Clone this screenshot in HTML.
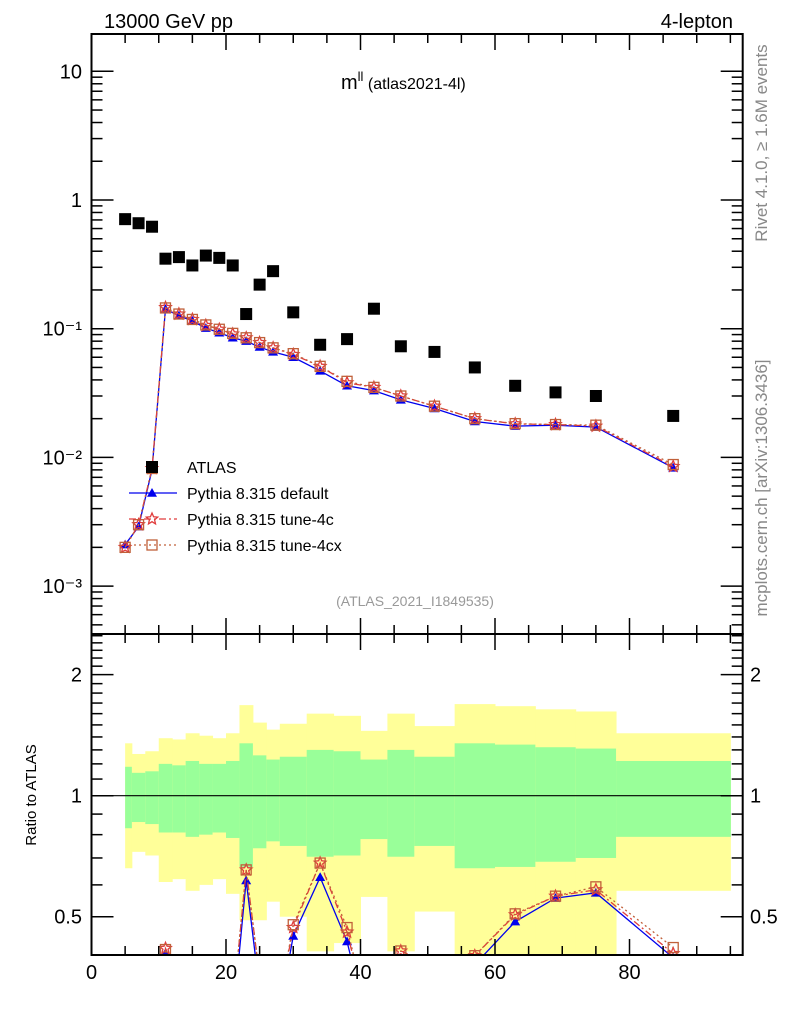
<!DOCTYPE html>
<html><head><meta charset="utf-8"><style>
html,body{margin:0;padding:0;background:#fff;width:786px;height:1024px;overflow:hidden;}
svg{display:block;font-family:"Liberation Sans",Arial,sans-serif;}
</style></head><body>
<svg id="chart" width="786" height="1024" viewBox="0 0 786 1024" xmlns="http://www.w3.org/2000/svg">
<g id="bands"></g>
<g id="marks"></g>
<g id="axes"></g>
<text x="104" y="28" font-size="20">13000 GeV pp</text>
<text x="733" y="28" font-size="20" text-anchor="end">4-lepton</text>
<text x="341" y="89" font-size="20">m<tspan font-size="13" dy="-8">ll</tspan><tspan font-size="16" dy="8"> (atlas2021-4l)</tspan></text>
<text x="415" y="606" font-size="14" fill="#999" text-anchor="middle">(ATLAS_2021_I1849535)</text>
<text transform="translate(767,143) rotate(-90)" font-size="17" fill="#888" text-anchor="middle">Rivet 4.1.0, ≥ 1.6M events</text>
<text transform="translate(767,488) rotate(-90)" font-size="17" fill="#888" text-anchor="middle">mcplots.cern.ch [arXiv:1306.3436]</text>
<text transform="translate(36,795) rotate(-90)" font-size="15" text-anchor="middle">Ratio to ATLAS</text>
<g id="legend"></g>
</svg>
<script>
const xVals=[5,7,9,11,13,15,17,19,21,23,25,27,30,34,38,42,46,51,57,63,69,75,86.5];
const atlas=[0.71,0.66,0.62,0.35,0.36,0.31,0.37,0.355,0.31,0.13,0.22,0.28,0.134,0.075,0.083,0.143,0.073,0.066,0.05,0.036,0.032,0.030,0.021];
const pyDefault=[0.0021,0.0029,0.008,0.142,0.126,0.115,0.101,0.093,0.085,0.08,0.072,0.066,0.06,0.047,0.036,0.033,0.028,0.024,0.019,0.0175,0.0178,0.0172,0.0083];
const pyTune4c=[0.0020,0.0030,0.0082,0.146,0.13,0.118,0.106,0.099,0.091,0.085,0.078,0.071,0.063,0.051,0.038,0.035,0.030,0.025,0.020,0.0182,0.018,0.0175,0.0085];
const pyTune4cx=[0.0020,0.0030,0.0082,0.145,0.13,0.118,0.107,0.099,0.092,0.085,0.078,0.071,0.064,0.051,0.039,0.035,0.030,0.025,0.020,0.0183,0.018,0.0178,0.0088];
const binEdges=[5,6,8,10,12,14,16,18,20,22,24,26,28,32,36,40,44,48,54,60,66,72,78,95];
const yellowHi=[1.35,1.27,1.29,1.39,1.38,1.43,1.41,1.39,1.43,1.68,1.52,1.46,1.51,1.6,1.58,1.45,1.6,1.49,1.69,1.67,1.64,1.62,1.43];
const greenHi=[1.18,1.14,1.15,1.2,1.19,1.22,1.2,1.2,1.22,1.35,1.26,1.23,1.25,1.3,1.29,1.23,1.3,1.25,1.35,1.34,1.32,1.31,1.22];
const greenLo=[0.83,0.86,0.85,0.81,0.81,0.79,0.8,0.81,0.785,0.665,0.74,0.77,0.75,0.705,0.71,0.78,0.705,0.75,0.66,0.665,0.685,0.7,0.79];
const yellowLo=[0.66,0.725,0.71,0.61,0.62,0.58,0.6,0.62,0.57,0.49,0.49,0.545,0.5,0.41,0.43,0.56,0.41,0.515,0.35,0.35,0.35,0.35,0.58];
const xTicks=[0,20,40,60,80];

const NS="http://www.w3.org/2000/svg";
const L=91.5,R=742.7,T=34,MB=634,RB=955;
const XMAX=(R-L)/6.725;
const X=v=>L+v*6.725;
const Y=v=>200-Math.log10(v)*128.7;
const RY=v=>795.7-Math.log10(v)*402;
function el(tag,attrs,parent){const e=document.createElementNS(NS,tag);for(const k in attrs)e.setAttribute(k,attrs[k]);parent.appendChild(e);return e;}
const bands=document.getElementById('bands'),marks=document.getElementById('marks'),axes=document.getElementById('axes'),legend=document.getElementById('legend');
const clampR=v=>Math.min(Math.max(RY(v),T),RB);

for(let i=0;i<binEdges.length-1;i++){
  const x0=X(binEdges[i]),x1=X(binEdges[i+1]);
  const yb=el('rect',{x:x0,y:clampR(yellowHi[i]),width:x1-x0+0.5,height:clampR(yellowLo[i])-clampR(yellowHi[i]),fill:'#ffff99'},bands);
  
  
  const gb=el('rect',{x:x0,y:clampR(greenHi[i]),width:x1-x0+0.5,height:clampR(greenLo[i])-clampR(greenHi[i]),fill:'#99ff99'},bands);
  
  
}
const one=el('line',{x1:L,x2:R,y1:RY(1),y2:RY(1),stroke:'#000','stroke-width':1.2},bands);



const defs=el('defs',{},marks);
const c1=el('clipPath',{id:'cm'},defs);el('rect',{x:L,y:T,width:R-L,height:MB-T},c1);
const c2=el('clipPath',{id:'cr'},defs);el('rect',{x:L,y:MB,width:R-L,height:RB-MB},c2);
const gm=el('g',{'clip-path':'url(#cm)'},marks);
const gr=el('g',{'clip-path':'url(#cr)'},marks);

function triangle(g,x,y,c,s){return el('path',{d:`M${x},${y-s} L${x+s},${y+s*0.75} L${x-s},${y+s*0.75}Z`,fill:c},g);}
function star(g,x,y,c,r){let p='';for(let i=0;i<10;i++){const a=-Math.PI/2+i*Math.PI/5,rr=i%2?r*0.45:r;p+=(i?'L':'M')+(x+rr*Math.cos(a)).toFixed(1)+','+(y+rr*Math.sin(a)).toFixed(1);}return el('path',{d:p+'Z',fill:'none',stroke:c,'stroke-width':1.3},g);}
function sq(g,x,y,c,s){return el('rect',{x:x-s,y:y-s,width:2*s,height:2*s,fill:'none',stroke:c,'stroke-width':1.3},g);}

const series=[
 {vals:pyTune4cx,c:'#c0603a',dash:'2,3',m:'sq',name:'tune-4cx'},
 {vals:pyTune4c,c:'#e03c3c',dash:'7,3,2,3',m:'star',name:'tune-4c'},
 {vals:pyDefault,c:'#0000ee',dash:'',m:'tri',name:'default'}];
series.slice().reverse().forEach(s=>{
  ['main','ratio'].forEach(panel=>{
    const g=panel==='main'?gm:gr;
    const pts=xVals.map((x,i)=>[X(x),panel==='main'?Y(s.vals[i]):RY(s.vals[i]/atlas[i])]);
    const pl=el('polyline',{points:pts.map(p=>p.join(',')).join(' '),fill:'none',stroke:s.c,'stroke-width':1.3,'stroke-dasharray':s.dash},g);
    
    
    pts.forEach(p=>{
      if(panel==='ratio' && p[1]>RB+4) return;
      let m;
      if(s.m==='tri')m=triangle(g,p[0],p[1],s.c,5);
      else if(s.m==='star')m=star(g,p[0],p[1],s.c,6);
      else m=sq(g,p[0],p[1],s.c,5);
      
      
    });
  });
});
xVals.forEach((x,i)=>{
  const r=el('rect',{x:X(x)-6,y:Y(atlas[i])-6,width:12,height:12,fill:'#000'},gm);
  
  
});

[[T,MB],[MB,RB]].forEach(([a,b])=>{el('rect',{x:L,y:a,width:R-L,height:b-a,fill:'none',stroke:'#000','stroke-width':2},axes);});
for(let v=0;v<=XMAX;v+=5){
  const x=X(v),maj=v%20===0,len=maj?16:9;
  [T,MB,RB].forEach(y0=>{
    if(y0!==T) el('line',{x1:x,x2:x,y1:y0,y2:y0-len,stroke:'#000','stroke-width':1.5},axes);
    if(y0!==RB) el('line',{x1:x,x2:x,y1:y0,y2:y0+len,stroke:'#000','stroke-width':1.5},axes);
  });
}
xTicks.forEach(v=>{const t=el('text',{x:X(v),y:979,'font-size':20,'text-anchor':'middle'},axes);t.textContent=v;
 });
const yLab={'1':'10','0':'1','-1':'10⁻¹','-2':'10⁻²','-3':'10⁻³'};
for(let d=-4;d<=1;d++){for(let k=1;k<=9;k++){
  const v=k*Math.pow(10,d),y=Y(v);if(y<T||y>MB)continue;
  const len=k===1?22:11;
  el('line',{x1:L,x2:L+len,y1:y,y2:y,stroke:'#000','stroke-width':1.5},axes);
  el('line',{x1:R,x2:R-len,y1:y,y2:y,stroke:'#000','stroke-width':1.5},axes);
  if(k===1){const t=el('text',{x:82,y:y+7,'font-size':20,'text-anchor':'end'},axes);t.textContent=yLab[d];
   }
}}
for(let n=4;n<=25;n++){
  const vv=n/10,y=RY(vv);if(y<MB||y>RB)continue;
  const maj=(n===5||n===10||n===20),len=maj?22:11;
  el('line',{x1:L,x2:L+len,y1:y,y2:y,stroke:'#000','stroke-width':1.5},axes);
  el('line',{x1:R,x2:R-len,y1:y,y2:y,stroke:'#000','stroke-width':1.5},axes);
}
[0.5,1,2].forEach(v=>{
  const t=el('text',{x:82,y:RY(v)+7,'font-size':20,'text-anchor':'end'},axes);t.textContent=v;
  
  const t2=el('text',{x:750,y:RY(v)+7,'font-size':20},axes);t2.textContent=v;
  
});
const lg=[['ATLAS',null],['Pythia 8.315 default',series[2]],['Pythia 8.315 tune-4c',series[1]],['Pythia 8.315 tune-4cx',series[0]]];
lg.forEach((e,i)=>{
  const y=467+i*26,g=el('g',{},legend);
  
  
  if(!e[1]){el('rect',{x:146,y:y-6,width:12,height:12,fill:'#000'},g);}
  else{const s=e[1];el('line',{x1:129,x2:177,y1:y,y2:y,stroke:s.c,'stroke-width':1.3,'stroke-dasharray':s.dash},g);
    if(s.m==='tri')triangle(g,152,y,s.c,5);else if(s.m==='star')star(g,152,y,s.c,6);else sq(g,152,y,s.c,5);}
  const t=el('text',{x:187,y:y+6,'font-size':16},g);t.textContent=e[0];
});
</script>
</body></html>
